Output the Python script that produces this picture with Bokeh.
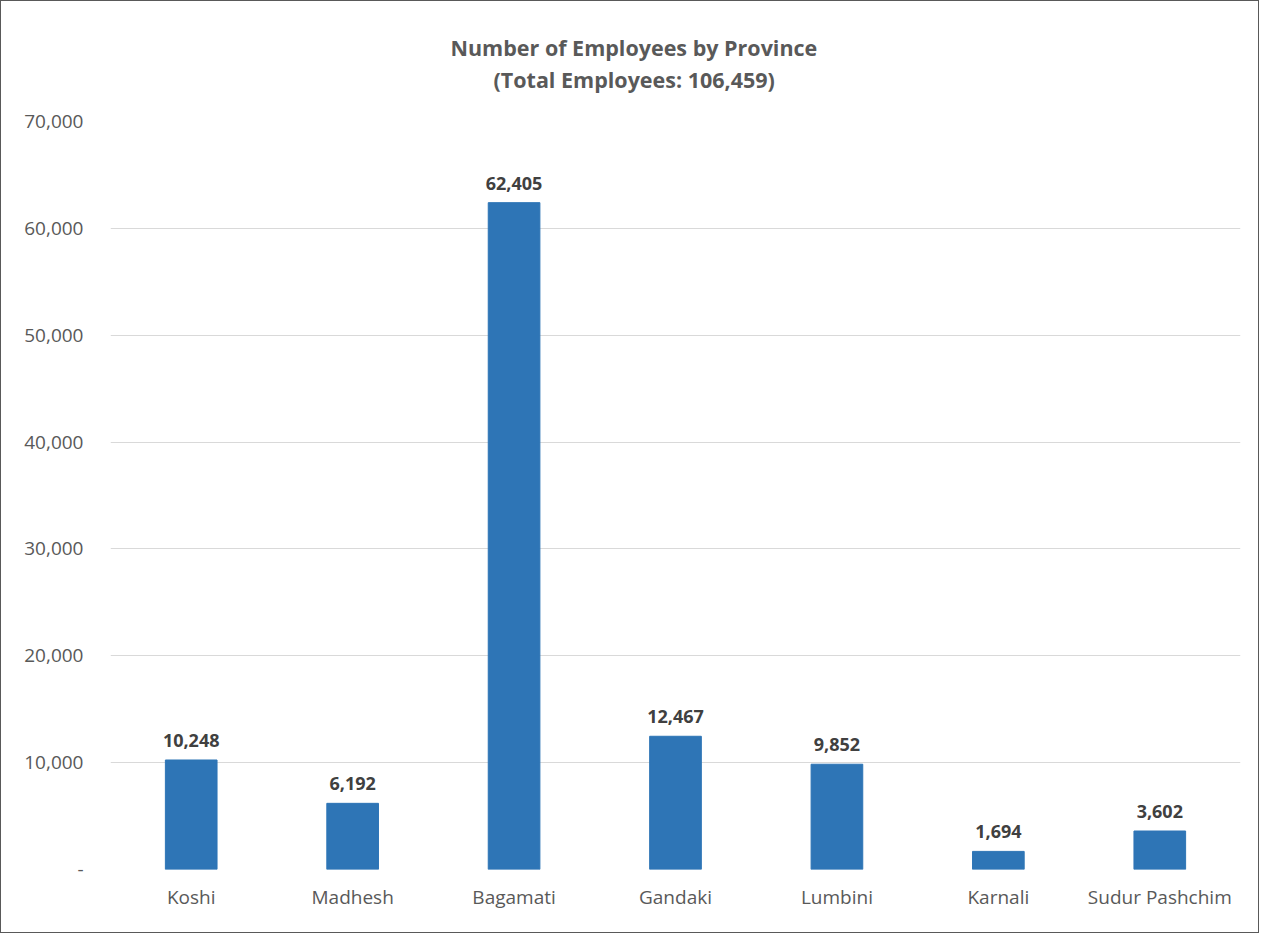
from bokeh.plotting import figure
from bokeh.models import ColumnDataSource, LabelSet, Title, NumeralTickFormatter, FixedTicker, Range1d
from bokeh.core.properties import value
from bokeh.embed import file_html
from bokeh.resources import INLINE

provinces = ["Koshi", "Madhesh", "Bagamati", "Gandaki", "Lumbini", "Karnali", "Sudur Pashchim"]
employees = [10248, 6192, 62405, 12467, 9852, 1694, 3602]
y_ticks = [0, 10000, 20000, 30000, 40000, 50000, 60000, 70000]
title_lines = ["Number of Employees by Province", "(Total Employees: 106,459)"]

labels = [f"{v:,}" for v in employees]
src = ColumnDataSource(dict(x=provinces, y=employees, label=labels))

FONT = "Open Sans"
W, H = 1259, 933
FL, FR, FT, FB = 109, 20, 120, 65
p = figure(x_range=provinces, y_range=Range1d(0, 70000), width=W, height=H,
           output_backend="svg", toolbar_location=None,
           min_border_left=FL, min_border_right=FR,
           min_border_top=FT, min_border_bottom=FB)
p.styles = {"border": "1px solid #595959"}

p.vbar(x="x", top="y", width=0.32, source=src, fill_color="#2E75B6", line_color="#2E75B6")

p.add_layout(LabelSet(x="x", y="y", text="label", source=src, text_align="center",
                      text_baseline="alphabetic", y_offset=13, text_font=value(FONT),
                      text_font_style="bold", text_font_size="18px", text_color="#404040"))

# blank spacer nearest the plot, then the two title lines stacked above it
p.title.text = ""
p.add_layout(Title(text=" ", text_font_size="10px", standoff=15), "above")
for line, off, stand in ((title_lines[1], 383, 0), (title_lines[0], 340, 2)):
    p.add_layout(Title(text=line, align="left", offset=off, standoff=stand,
                       text_font=FONT, text_font_size="21.5px",
                       text_font_style="bold", text_color="#595959"), "above")

p.outline_line_color = None
p.xgrid.grid_line_color = None
p.ygrid.grid_line_color = "#D9D9D9"
p.ygrid.grid_line_width = 1

p.yaxis.ticker = FixedTicker(ticks=y_ticks)
p.yaxis.formatter = NumeralTickFormatter(format="0,0")
p.yaxis.major_label_overrides = {0: "-"}
for ax in (p.xaxis, p.yaxis):
    ax.axis_line_color = None
    ax.major_tick_line_color = None
    ax.minor_tick_line_color = None
    ax.major_label_text_font = FONT
    ax.major_label_text_font_size = "19px"
    ax.major_label_text_color = "#595959"
p.yaxis.major_label_standoff = 21
p.xaxis.major_label_standoff = 8

open("out.html", "w").write(file_html(p, INLINE))
